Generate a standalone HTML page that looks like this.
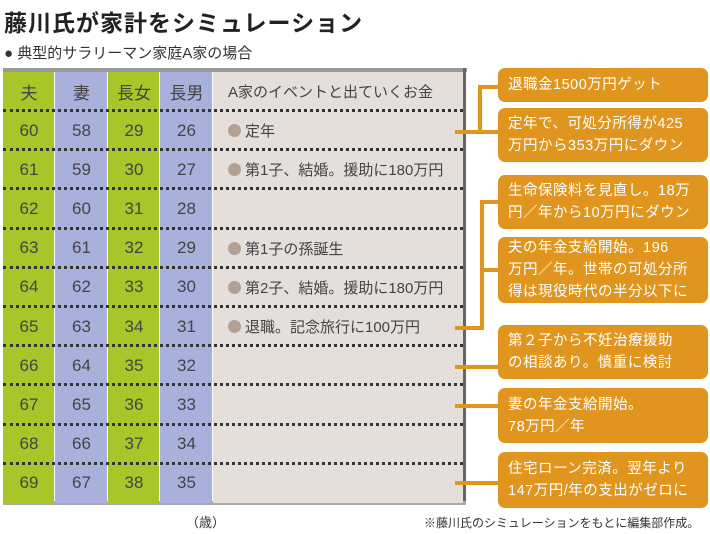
<!DOCTYPE html>
<html><head><meta charset="utf-8"><style>
body{margin:0;width:710px;height:534px;background:#fff;position:relative;overflow:hidden;font-family:"Liberation Sans","Noto Sans CJK JP",sans-serif;color:#333}
.a{position:absolute}
.cell{position:absolute;display:flex;align-items:center;justify-content:center;font-size:17px;color:#444}
.ev{position:absolute;display:flex;align-items:center;font-size:15px;color:#444;left:228px;white-space:nowrap}
.dot{display:inline-block;width:13px;height:13px;border-radius:50%;background:#b3a193;margin-right:4px}
.dl{position:absolute;left:3px;width:460px;height:0;border-top:3px dotted #333}
.box{position:absolute;left:498px;width:210px;background:#e0951e;border-radius:7px;color:#fff;font-size:14.5px;line-height:22px;padding:0 10px;box-sizing:border-box;display:flex;align-items:center;white-space:nowrap;letter-spacing:0.5px}
.ln{position:absolute;background:#e0951e}
</style></head><body>
<div class="a" style="left:4px;top:4px;font-size:23px;font-weight:bold;color:#222;letter-spacing:1px">藤川氏が家計をシミュレーション</div>
<div class="a" style="left:4px;top:42px;font-size:15px;color:#333">● 典型的サラリーマン家庭A家の場合</div>
<div class="a" style="left:3px;top:68px;width:464px;height:4px;background:#999"></div>
<div class="a" style="left:463px;top:68px;width:3px;height:436px;background:#666"></div>
<div class="a" style="left:3px;top:501px;width:463px;height:4px;background:#aaa"></div>
<div id="tbl"></div>
<div class="a" style="left:186px;top:512px;font-size:13px">（歳）</div>
<div class="a" style="left:424px;top:514px;font-size:12px;white-space:nowrap">※藤川氏のシミュレーションをもとに編集部作成。</div>
<div id="notes"></div>
<script>
const husband=[60,61,62,63,64,65,66,67,68,69];
const wife=[58,59,60,61,62,63,64,65,66,67];
const daughter=[29,30,31,32,33,34,35,36,37,38];
const son=[26,27,28,29,30,31,32,33,34,35];
const events=["定年","第1子、結婚。援助に180万円","","第1子の孫誕生","第2子、結婚。援助に180万円","退職。記念旅行に100万円","","","",""];
const headers=["夫","妻","長女","長男"];
const colColors=["#a8c62a","#aab0dc","#a8c62a","#aab0dc"];
const colX=[3,55,108,160,213];
const tbl=document.getElementById('tbl');
const top0=72,hdrH=39,rowH=39.2;
function mk(cls,style,txt){const d=document.createElement('div');d.className=cls;d.style.cssText=style;if(txt!==undefined)d.textContent=txt;tbl.appendChild(d);return d;}
const H=top0+hdrH+husband.length*rowH;
for(let c=0;c<4;c++){
  const bg=mk('a',`left:${colX[c]}px;top:${top0}px;width:${colX[c+1]-colX[c]-1}px;height:${H-top0}px;background:${colColors[c]}`);
  
  
  const h=mk('cell',`left:${colX[c]}px;top:${top0}px;width:${colX[c+1]-colX[c]}px;height:${hdrH}px`,headers[c]);
  
  
}
const evbg=mk('a',`left:213px;top:${top0}px;width:250px;height:${H-top0}px;background:#e5dfdc`);


const eh=mk('ev',`top:${top0}px;height:${hdrH}px`,"A家のイベントと出ていくお金");


const cols=[husband,wife,daughter,son];
for(let r=0;r<husband.length;r++){
  const y=top0+hdrH+r*rowH;
  const dl=mk('dl',`top:${y-2}px`);
  
  
  for(let c=0;c<4;c++){
    const d=mk('cell',`left:${colX[c]}px;top:${y}px;width:${colX[c+1]-colX[c]}px;height:${rowH}px`,cols[c][r]);
    
    
  }
  if(events[r]){
    const e=mk('ev',`top:${y}px;height:${rowH}px`);
    e.innerHTML='<span class="dot"></span>'+events[r];
    
    
  }
}
const notes=[["退職金1500万円ゲット",68,34],["定年で、可処分所得が425<br>万円から353万円にダウン",108,54],["生命保険料を見直し。18万<br>円／年から10万円にダウン",175,54],["夫の年金支給開始。196<br>万円／年。世帯の可処分所<br>得は現役時代の半分以下に",237,66],["第２子から不妊治療援助<br>の相談あり。慎重に検討",325,54],["妻の年金支給開始。<br>78万円／年",388,55],["住宅ローン完済。翌年より<br>147万円/年の支出がゼロに",452,56]];
const nd=document.getElementById('notes');
notes.forEach(n=>{const b=document.createElement('div');b.className='box';b.style.top=n[1]+'px';b.style.height=n[2]+'px';b.innerHTML='<div>'+n[0]+'</div>';


nd.appendChild(b);});
const lines=[[478,85,4,49],[478,85,20,4],[478,130,20,4],[455,130,25,4],[480,200,4,130],[480,200,18,4],[480,268,18,4],[455,326,29,4],[455,365,43,4],[455,404,43,4],[455,481,43,4]];
lines.forEach(l=>{const d=document.createElement('div');d.className='ln';d.style.cssText=`left:${l[0]}px;top:${l[1]}px;width:${l[2]}px;height:${l[3]}px`;


nd.appendChild(d);});
</script>
</body></html>
